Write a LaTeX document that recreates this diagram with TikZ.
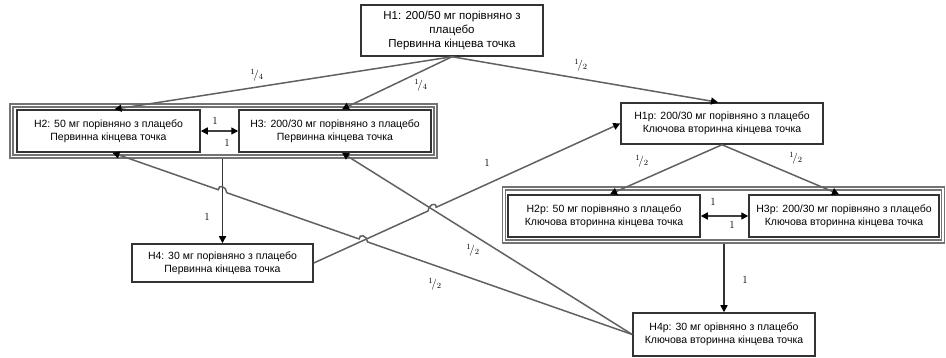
\documentclass[tikz,border=0pt]{standalone}
\usepackage{fontspec}
\newfontfamily\boxfont{Liberation Sans}
\usetikzlibrary{arrows.meta,calc,intersections}
\begin{document}
\begin{tikzpicture}[x=1pt,y=-1pt,
  hbox/.style={draw=black!80, line width=1.5pt, fill=white, align=center, inner sep=0pt,
    font=\boxfont\fontsize{10.5}{13}\selectfont},
  grp/.style={draw=black!55, line width=1.2pt, inner sep=0pt},
  conn/.style={draw=black!62, line width=1.5pt, -{Triangle[length=7pt,width=7pt,color=black]}},
  dconn/.style={draw=black!75, line width=1.4pt, {Triangle[length=7pt,width=7pt,color=black]}-{Triangle[length=7pt,width=7pt,color=black]}},
  lbl/.style={font=\fontsize{11}{12}\selectfont, inner sep=1pt}
]
\useasboundingbox (0,0) rectangle (946,358);
% groups (double border)
\node[grp, minimum width=427pt, minimum height=54pt] (LG) at (223.5,131) {};
\node[grp, minimum width=421pt, minimum height=48pt] (LGi) at (223.5,131) {};
\node[grp, minimum width=442pt, minimum height=56pt] (RG) at (723.5,215) {};
\node[grp, minimum width=436pt, minimum height=50pt] (RGi) at (723.5,215) {};
% boxes
\node[hbox, minimum width=182pt, minimum height=51pt, font=\boxfont\fontsize{11.5}{14}\selectfont] (H1) at (452,30.5)
  {H1: 200/50 мг порівняно з\\плацебо\\Первинна кінцева точка};
\node[hbox, minimum width=183pt, minimum height=42pt] (H2) at (108.5,131)
  {H2: 50 мг порівняно з плацебо\\Первинна кінцева точка};
\node[hbox, minimum width=192pt, minimum height=42pt] (H3) at (335,131)
  {H3: 200/30 мг порівняно з плацебо\\Первинна кінцева точка};
\node[hbox, minimum width=202pt, minimum height=41pt] (H1p) at (722,123.5)
  {H1p: 200/30 мг порівняно з плацебо\\Ключова вторинна кінцева точка};
\node[hbox, minimum width=192pt, minimum height=42pt] (H2p) at (604,216)
  {H2p: 50 мг порівняно з плацебо\\Ключова вторинна кінцева точка};
\node[hbox, minimum width=190pt, minimum height=42pt] (H3p) at (844,216)
  {H3p: 200/30 мг порівняно з плацебо\\Ключова вторинна кінцева точка};
\node[hbox, minimum width=181pt, minimum height=38pt] (H4) at (222.5,263)
  {H4: 30 мг порівняно з плацебо\\Первинна кінцева точка};
\node[hbox, minimum width=182pt, minimum height=43pt] (H4p) at (724,334.5)
  {H4p: 30 мг орівняно з плацебо\\Ключова вторинна кінцева точка};
% simple connectors
\draw[conn] (H1.south) -- ($(H2.north)+(6,0)$);
\draw[conn] (H1.south) -- ($(H3.north)+(7,0)$);
\draw[conn] (H1.south) -- ($(H1p.north)+(-4,0)$);
\draw[dconn] (H2.east) -- (H3.west);
\draw[dconn] (H2p.east) -- (H3p.west);
\draw[conn] (H1p.south) -- ($(H2p.north)+(6,0)$);
\draw[conn] (H1p.south) -- ($(H3p.north)+(-5,0)$);
\draw[conn, draw=black!80] (H4.north |- LG.south) coordinate (vtop) -- (H4.north);
\draw[conn, draw=black!80] (H4p.north |- RG.south) -- (H4p.north);
% crossing paths
\coordinate (H2s) at ($(H2.south)+(4,0)$);
\coordinate (H3s) at ($(H3.south)+(7,0)$);
\path[name path=pA] (H4p.west) -- (H2s);
\path[name path=pV] (vtop) -- (H4.north);
\path[name path=pB] (H4.east) -- (H1p.west);
\path[name path=pC] (H4p.west) -- (H3s);
\path[name intersections={of=pA and pV, by=x1}];
\path[name intersections={of=pA and pB, by=x2}];
\path[name intersections={of=pB and pC, by=x3}];
\draw[conn] (H4p.west) -- ($(x2)!4.5pt!(H4p.west)$)
  .. controls +(0,-6) and +(0,-6) .. ($(x2)!4.5pt!(H2s)$)
  -- ($(x1)!4.5pt!(H4p.west)$)
  .. controls +(0,-6) and +(0,-6) .. ($(x1)!4.5pt!(H2s)$)
  -- (H2s);
\draw[conn] (H4p.west) -- (H3s);
\draw[conn] (H4.east) -- ($(x3)!4.5pt!(H4.east)$)
  .. controls +(0,-6) and +(0,-6) .. ($(x3)!4.5pt!(H1p.west)$)
  -- (H1p.west);
% labels
\node[lbl] (l1) at (257,75) {$^{1}\!/_{4}$};
\node[lbl] (l2) at (421,85) {$^{1}\!/_{4}$};
\node[lbl] (l3) at (581,65) {$^{1}\!/_{2}$};
\node[lbl] (l4) at (215,121) {1};
\node[lbl] (l5) at (227,143) {1};
\node[lbl] (l6) at (207,217) {1};
\node[lbl] (l7) at (487,163) {1};
\node[lbl] (l8) at (642,161) {$^{1}\!/_{2}$};
\node[lbl] (l9) at (796,158) {$^{1}\!/_{2}$};
\node[lbl] (l10) at (713,202) {1};
\node[lbl] (l11) at (732,225) {1};
\node[lbl] (l12) at (745,280) {1};
\node[lbl] (l13) at (473,250) {$^{1}\!/_{2}$};
\node[lbl] (l14) at (435,284) {$^{1}\!/_{2}$};
\end{tikzpicture}
\end{document}
